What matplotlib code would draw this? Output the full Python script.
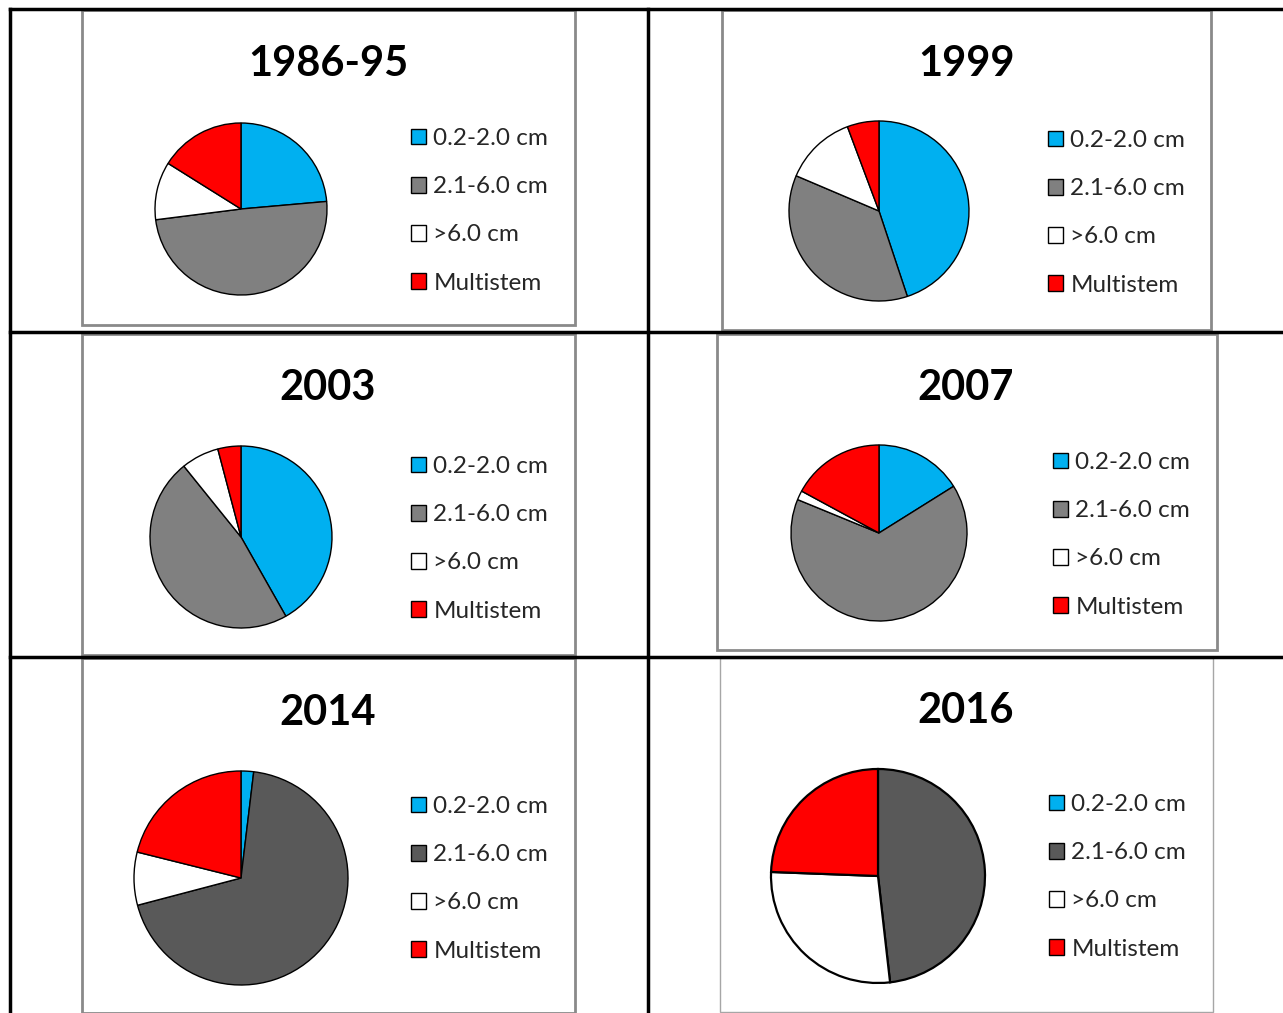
import matplotlib
matplotlib.use("Agg")
import matplotlib.pyplot as plt
from matplotlib.patches import Patch, Rectangle
from matplotlib.lines import Line2D

plt.rcParams['font.family'] = ['Lato', 'DejaVu Sans']

W, H = 1283, 1013

# data: share (%) of each size class per survey, clockwise from 12 o'clock
labels = ['0.2-2.0 cm', '2.1-6.0 cm', '>6.0 cm', 'Multistem']
titles = ['1986-95', '1999', '2003', '2007', '2014', '2016']
v_1986 = [23.6, 49.4, 10.9, 16.1]
v_1999 = [44.9, 36.5, 12.9, 5.7]
v_2003 = [41.8, 47.4, 6.7, 4.1]
v_2007 = [16.1, 65.1, 1.7, 17.1]
v_2014 = [1.9, 69.0, 8.0, 21.1]
v_2016 = [0.0, 48.2, 27.4, 24.4]
values = [v_1986, v_1999, v_2003, v_2007, v_2014, v_2016]

blue = '#00b0f0'
red = '#ff0000'
grey_light = '#808080'
grey_dark = '#595959'

# layout in pixels (top-left origin)
boxes = [(82, 10, 575, 325), (722, 10, 1211, 330),
         (82, 334, 575, 655), (717, 334, 1217, 650),
         (82, 658, 575, 1013), (720, 658, 1213, 1012)]
pies = [(241, 209, 86), (879, 211, 90), (241, 537, 91),
        (879, 533, 88), (241, 878, 107), (878, 876, 107)]
title_pos = [(328, 64), (967, 64), (328, 388), (966, 388), (328, 713), (966, 711)]
legend_pos = [(411, 128), (1048, 130), (411, 456), (1053, 452), (411, 796), (1049, 794)]


def fx(x):
    return x / W


def fy(y):
    return 1 - y / H


fig = plt.figure(figsize=(W / 100, H / 100), dpi=100)
fig.patch.set_facecolor('white')

# chart frames
for i, (x0, y0, x1, y1) in enumerate(boxes):
    ec = '#a6a6a6' if i == 5 else '#8a8a8a'
    lw = 1.0 if i == 5 else 2.0
    fig.patches.append(Rectangle((fx(x0), fy(y1)), fx(x1 - x0), (y1 - y0) / H,
                                 transform=fig.transFigure, facecolor='white',
                                 edgecolor=ec, linewidth=lw, zorder=-1))

for i in range(6):
    cx, cy, r = pies[i]
    ax = fig.add_axes([fx(cx - r), fy(cy + r), 2 * r / W, 2 * r / H])
    ax.patch.set_alpha(0)
    grey = grey_dark if i >= 4 else grey_light
    cols = [blue, grey, 'white', red]
    elw = 1.6 if i == 5 else 1.0
    wedges, _ = ax.pie(values[i], colors=cols, startangle=90, counterclock=False,
                       radius=1.0, wedgeprops=dict(edgecolor='black', linewidth=elw))
    for w in wedges:
        w.set_clip_on(False)
    ax.set_xlim(-1.0, 1.0)
    ax.set_ylim(-1.0, 1.0)
    ax.axis('off')

    tx, ty = title_pos[i]
    fig.text(fx(tx), fy(ty), titles[i], ha='center', va='center',
             fontsize=30, fontweight='bold', color='black')

    handles = [Patch(facecolor=c, edgecolor='black', linewidth=1.0) for c in cols]
    lx, ly = legend_pos[i]
    fig.legend(handles, labels, loc='upper left',
               bbox_to_anchor=(fx(lx), fy(ly)), frameon=False,
               fontsize=17.5, handlelength=0.62, handleheight=0.62,
               handletextpad=0.3, labelspacing=1.12, borderpad=0,
               borderaxespad=0, labelcolor='#262626')

# table grid
tl = dict(color='black', linewidth=2.5, transform=fig.transFigure)
fig.add_artist(Line2D([fx(10), 1], [fy(9), fy(9)], **tl))
fig.add_artist(Line2D([fx(10), 1], [fy(332), fy(332)], **tl))
fig.add_artist(Line2D([fx(10), 1], [fy(657), fy(657)], **tl))
fig.add_artist(Line2D([fx(10), fx(10)], [fy(9), 0], **tl))
fig.add_artist(Line2D([fx(648), fx(648)], [fy(9), 0], **tl))

fig.savefig('out.png', dpi=100)
